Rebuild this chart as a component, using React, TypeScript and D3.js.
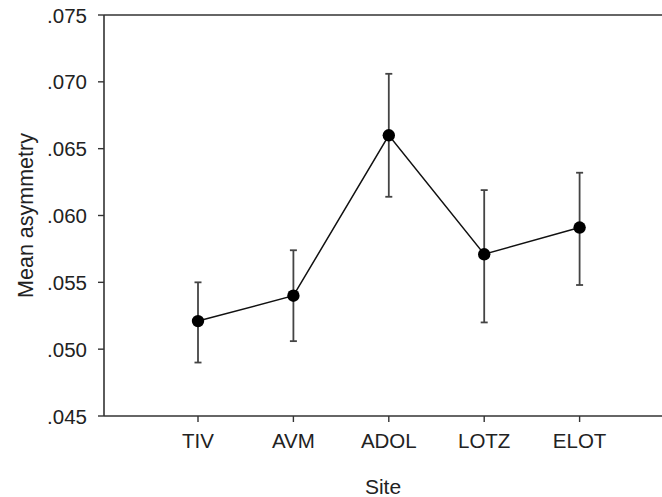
import * as d3 from 'd3';

const sites = ['TIV', 'AVM', 'ADOL', 'LOTZ', 'ELOT'];
const means = [0.0521, 0.0540, 0.0660, 0.0571, 0.0591];
const lower = [0.0490, 0.0506, 0.0614, 0.0520, 0.0548];
const upper = [0.0550, 0.0574, 0.0706, 0.0619, 0.0632];
const yTickValues = [0.045, 0.05, 0.055, 0.06, 0.065, 0.07, 0.075];

const width = 662;
const height = 497;
const left = 104;
const top = 15;
const bottom = 416;
const font = '"Liberation Sans", Arial, sans-serif';

export default function App() {
  const x = d3.scaleLinear().domain([0, 6]).range([102.6, 675]);
  const y = d3.scaleLinear().domain([0.045, 0.075]).range([bottom, top]);

  const line = d3
    .line<number>()
    .x((_, i) => x(i + 1))
    .y((d) => y(d));

  const fmt = (v: number) => d3.format('.3f')(v).replace(/^0/, '');

  return (
    <svg
      width={width}
      height={height}
      viewBox={`0 0 ${width} ${height}`}
      style={{ position: 'absolute', left: 0, top: 0, background: '#fff' }}
    >
      {/* frame: left axis, top line, bottom axis */}
      <line x1={left} x2={left} y1={top} y2={bottom} stroke="#333" strokeWidth={1.6} />
      <line x1={left} x2={width} y1={top} y2={top} stroke="#333" strokeWidth={1.6} />
      <line x1={left} x2={width} y1={bottom} y2={bottom} stroke="#333" strokeWidth={1.6} />

      {/* Y ticks */}
      {yTickValues.map((t) => (
        <g key={t} transform={`translate(0,${y(t)})`}>
          <line x1={left - 6} x2={left} stroke="#333" strokeWidth={1.4} />
          <text
            x={87}
            textAnchor="end"
            dominantBaseline="central"
            fontSize={20.5}
            fontFamily={font}
            fill="#222"
          >
            {fmt(t)}
          </text>
        </g>
      ))}

      {/* X ticks */}
      {sites.map((s, i) => (
        <g key={s} transform={`translate(${x(i + 1)},${bottom})`}>
          <line y1={0} y2={6} stroke="#333" strokeWidth={1.4} />
          <text
            y={32}
            textAnchor="middle"
            fontSize={20.5}
            fontFamily={font}
            fill="#222"
          >
            {s}
          </text>
        </g>
      ))}

      {/* error bars */}
      {sites.map((s, i) => (
        <g key={`eb-${s}`} stroke="#444" strokeWidth={1.8}>
          <line x1={x(i + 1)} x2={x(i + 1)} y1={y(lower[i])} y2={y(upper[i])} />
          <line x1={x(i + 1) - 3.5} x2={x(i + 1) + 3.5} y1={y(lower[i])} y2={y(lower[i])} />
          <line x1={x(i + 1) - 3.5} x2={x(i + 1) + 3.5} y1={y(upper[i])} y2={y(upper[i])} />
        </g>
      ))}

      {/* connecting line */}
      <path d={line(means) || ''} fill="none" stroke="#111" strokeWidth={1.5} />

      {/* points */}
      {means.map((m, i) => (
        <circle key={`pt-${i}`} cx={x(i + 1)} cy={y(m)} r={6.2} fill="#000" />
      ))}

      {/* axis titles */}
      <text
        x={383}
        y={494}
        textAnchor="middle"
        fontSize={21}
        fontFamily={font}
        fill="#222"
      >
        Site
      </text>
      <text
        transform={`translate(33,${(top + bottom) / 2}) rotate(-90)`}
        textAnchor="middle"
        fontSize={21.5}
        fontFamily={font}
        fill="#222"
      >
        Mean asymmetry
      </text>
    </svg>
  );
}
